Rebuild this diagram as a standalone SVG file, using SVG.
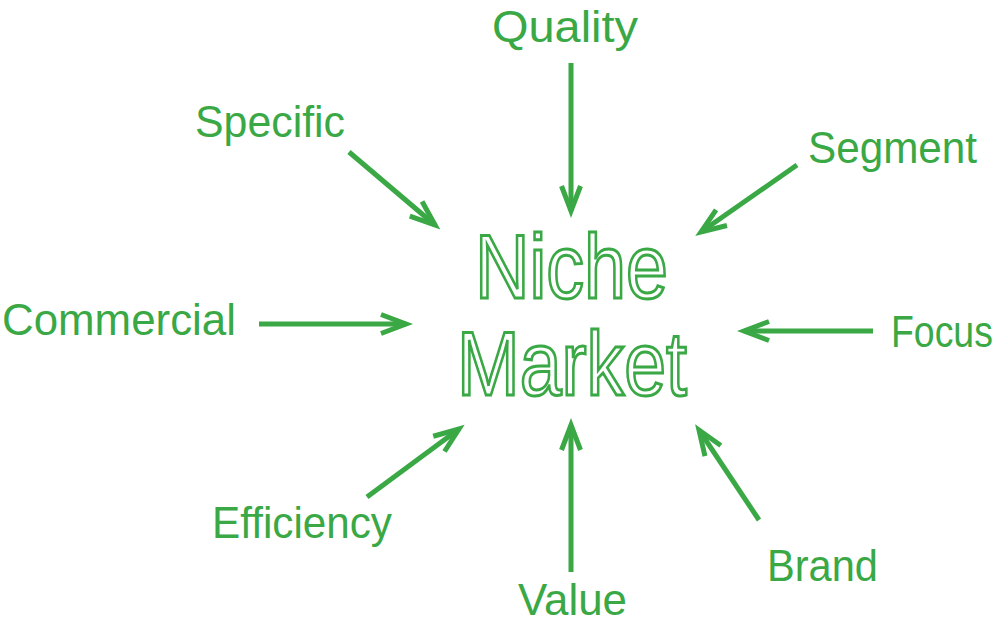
<svg xmlns="http://www.w3.org/2000/svg" width="1000" height="632" viewBox="0 0 1000 632">
<style>
.lbl{font-family:"Liberation Sans",Arial,sans-serif;font-size:44px;fill:#39a845}
.big{font-family:"Liberation Sans",Arial,sans-serif;font-size:90px;fill:#ffffff;stroke:#39a845;stroke-width:3;stroke-linejoin:miter}
.arr{stroke:#39a845;stroke-width:5;fill:none;marker-end:url(#ah)}
</style>
<defs>
<marker id="ah" markerUnits="userSpaceOnUse" markerWidth="40" markerHeight="30" viewBox="-32 -15 40 30" refX="0" refY="0" orient="auto" overflow="visible">
<path d="M-25,-9.5 L0,0 L-25,9.5" fill="none" stroke="#39a845" stroke-width="5" stroke-linejoin="miter"/>
</marker>
</defs>
<rect width="1000" height="632" fill="#ffffff"/>
<g id="center">
<text class="big" x="475" y="298" textLength="193" lengthAdjust="spacingAndGlyphs">Niche</text>
<text class="big" x="457" y="395" textLength="230" lengthAdjust="spacingAndGlyphs">Market</text>
</g>
<g id="quality"><text class="lbl" x="492" y="42" textLength="146" lengthAdjust="spacingAndGlyphs">Quality</text></g>
<g id="specific"><text class="lbl" x="195" y="137" textLength="150" lengthAdjust="spacingAndGlyphs">Specific</text></g>
<g id="segment"><text class="lbl" x="808" y="163" textLength="169" lengthAdjust="spacingAndGlyphs">Segment</text></g>
<g id="commercial"><text class="lbl" x="2" y="335" textLength="234" lengthAdjust="spacingAndGlyphs">Commercial</text></g>
<g id="focus"><text class="lbl" transform="translate(891,347) scale(0.85,1)" x="0" y="0">Focus</text></g>
<g id="efficiency"><text class="lbl" x="212" y="538" textLength="180" lengthAdjust="spacingAndGlyphs">Efficiency</text></g>
<g id="value"><text class="lbl" x="518" y="615" textLength="109" lengthAdjust="spacingAndGlyphs">Value</text></g>
<g id="brand"><text class="lbl" x="767" y="581" textLength="111" lengthAdjust="spacingAndGlyphs">Brand</text></g>
<g id="connectors">
<line class="arr" x1="571" y1="63" x2="571" y2="211"/>
<line class="arr" x1="349" y1="152" x2="435" y2="225"/>
<line class="arr" x1="797" y1="165" x2="701" y2="232"/>
<line class="arr" x1="259" y1="324" x2="406" y2="324"/>
<line class="arr" x1="873" y1="331" x2="744" y2="331"/>
<line class="arr" x1="367" y1="497" x2="459" y2="429"/>
<line class="arr" x1="571" y1="572" x2="571" y2="425"/>
<line class="arr" x1="759" y1="520" x2="699" y2="430"/>
</g>
</svg>
